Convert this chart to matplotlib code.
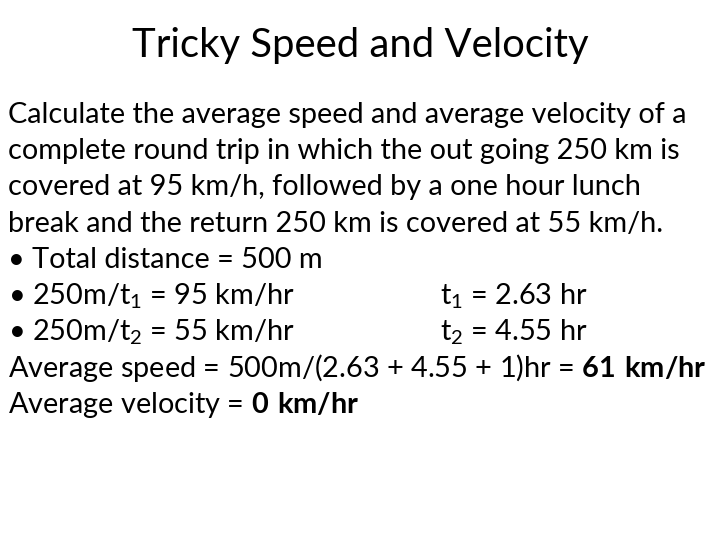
import matplotlib
matplotlib.use("Agg")
import matplotlib.pyplot as plt

plt.rcParams['font.family'] = ['Lato', 'DejaVu Sans']
plt.rcParams['mathtext.fontset'] = 'custom'
plt.rcParams['mathtext.rm'] = 'Lato'
plt.rcParams['mathtext.bf'] = 'Lato:bold'

title = "Tricky Speed and Velocity"
lines = [
    "Calculate the average speed and average velocity of a",
    "complete round trip in which the out going 250 km is",
    "covered at 95 km/h, followed by a one hour lunch",
    "break and the return 250 km is covered at 55 km/h.",
    "• Total distance = 500 m",
    "• 250m/t$_1$ = 95 km/hr",
    "• 250m/t$_2$ = 55 km/hr",
    r"Average speed = 500m/(2.63 + 4.55 + 1)hr = $\mathbf{61\ km/hr}$",
    r"Average velocity = $\mathbf{0\ km/hr}$",
]
right_col = {5: "t$_1$ = 2.63 hr", 6: "t$_2$ = 4.55 hr"}

fig = plt.figure(figsize=(7.2, 5.4), dpi=100)
W, H = 720, 540
fig.text(360 / W, 1 - 45 / H, title, ha='center', va='center', fontsize=28.8)
fs = 20.8
y0, dy = 115, 36.2
for i, s in enumerate(lines):
    y = 1 - (y0 + i * dy) / H
    fig.text(8 / W, y, s, ha='left', va='center', fontsize=fs)
    if i in right_col:
        fig.text(440 / W, y, right_col[i], ha='left', va='center', fontsize=fs)
fig.savefig("out.png", dpi=100, facecolor='white')
